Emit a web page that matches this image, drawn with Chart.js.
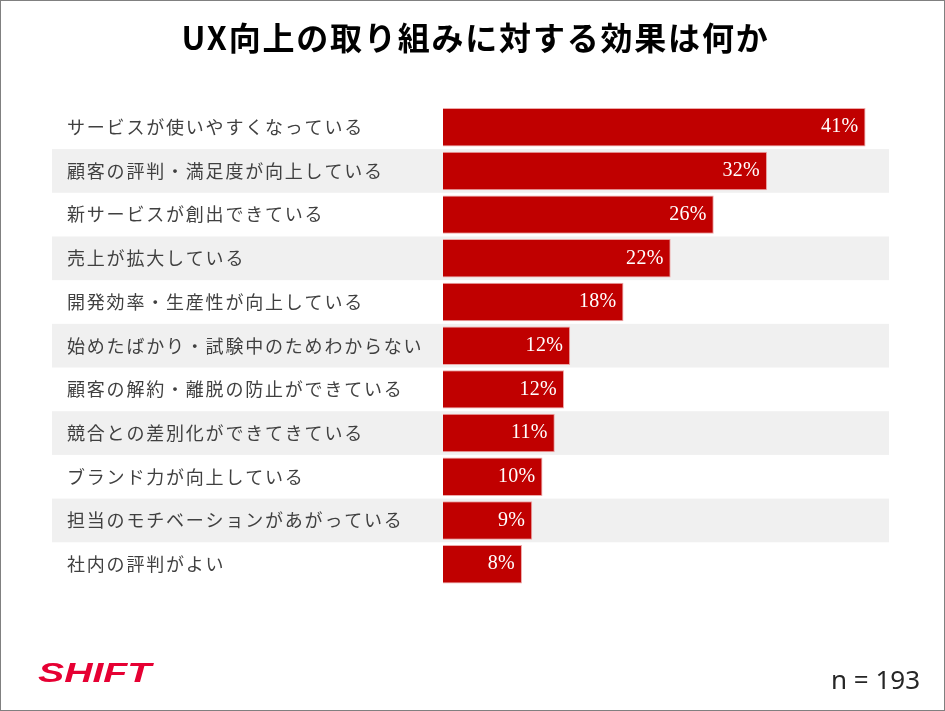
<!DOCTYPE html>
<html>
<head>
<meta charset="utf-8">
<script src="https://cdn.jsdelivr.net/npm/chart.js@4.4.1/dist/chart.umd.min.js"></script>
<style>
  html, body { margin: 0; padding: 0; background: #fff; }
  #wrap { position: relative; width: 945px; height: 711px; }
  #frame { position: absolute; left: 0; top: 0; width: 945px; height: 711px; box-sizing: border-box; border: 1.5px solid #808080; pointer-events: none; }
  canvas { position: absolute; left: 0; top: 0; }
</style>
</head>
<body>
<div id="wrap">
  <canvas id="c" width="945" height="711"></canvas>
  <div id="frame"></div>
</div>
<script>
const titleText = 'UX向上の取り組みに対する効果は何か';
const categories = [
  'サービスが使いやすくなっている',
  '顧客の評判・満足度が向上している',
  '新サービスが創出できている',
  '売上が拡大している',
  '開発効率・生産性が向上している',
  '始めたばかり・試験中のためわからない',
  '顧客の解約・離脱の防止ができている',
  '競合との差別化ができてきている',
  'ブランド力が向上している',
  '担当のモチベーションがあがっている',
  '社内の評判がよい'
];
const values = [41.2, 31.6, 26.4, 22.2, 17.6, 12.4, 11.8, 10.9, 9.7, 8.7, 7.7];
const sampleNote = 'n = 193';
const logoText = 'SHIFT';

const bandsPlugin = {
  id: 'bands',
  beforeDraw(chart) {
    const ctx = chart.ctx;
    const y = chart.scales.y;
    const step = y.getPixelForValue(1) - y.getPixelForValue(0);
    ctx.save();
    ctx.fillStyle = '#F0F0F0';
    for (let i = 1; i < categories.length; i += 2) {
      const yc = y.getPixelForValue(i);
      ctx.fillRect(52, yc - step / 2, 889 - 52, step);
    }
    ctx.restore();
    ctx.letterSpacing = '1.8px';
  },
  afterDatasetsDraw(chart) {
    const ctx = chart.ctx;
    const meta = chart.getDatasetMeta(0);
    ctx.save();
    ctx.letterSpacing = '0.3px';
    ctx.fillStyle = '#FFFFFF';
    ctx.font = '20px "Liberation Serif", "DejaVu Serif", serif';
    ctx.textAlign = 'right';
    ctx.textBaseline = 'middle';
    meta.data.forEach((bar, i) => {
      ctx.fillText(Math.round(values[i]) + '%', bar.x - 7, bar.y);
    });
    ctx.restore();
  },
  afterDraw(chart) {
    const ctx = chart.ctx;
    ctx.save();
    ctx.letterSpacing = '0px';
    // sample size
    ctx.fillStyle = '#262626';
    ctx.font = '26px "Noto Sans", "Noto Sans CJK JP", sans-serif';
    ctx.textAlign = 'right';
    ctx.textBaseline = 'alphabetic';
    ctx.fillText(sampleNote, 920, 689);
    // logo
    ctx.translate(38, 682);
    ctx.scale(1.4, 1);
    ctx.fillStyle = '#E60033';
    ctx.font = 'italic bold 28px "Liberation Sans", Arial, sans-serif';
    ctx.textAlign = 'left';
    ctx.fillText(logoText, 0, 0);
    ctx.restore();
    ctx.letterSpacing = '0px';
  }
};

new Chart(document.getElementById('c'), {
  type: 'bar',
  data: {
    labels: categories,
    datasets: [{
      data: values,
      backgroundColor: '#C00000',
      borderColor: '#EDA8A8',
      borderWidth: 1,
      barPercentage: 0.88,
      categoryPercentage: 1.0
    }]
  },
  options: {
    indexAxis: 'y',
    responsive: false,
    animation: false,
    devicePixelRatio: 1,
    layout: { padding: { left: 67, right: 61, top: 0, bottom: 125 } },
    plugins: {
      legend: { display: false },
      tooltip: { enabled: false },
      title: {
        display: true,
        text: titleText,
        color: '#000000',
        font: { family: '"Noto Sans CJK JP", "Noto Sans", sans-serif', size: 32, weight: 'bold', lineHeight: 1.2 },
        padding: { top: 19, bottom: 48 }
      }
    },
    scales: {
      x: { display: false, min: 0, max: 43 },
      y: {
        grid: { display: false },
        border: { display: false },
        afterFit(scale) { scale.width = 376; },
        ticks: {
          crossAlign: 'far',
          color: '#404040',
          font: { family: '"Noto Sans CJK JP", "Noto Sans", sans-serif', size: 18 },
          autoSkip: false
        }
      }
    }
  },
  plugins: [bandsPlugin]
});
</script>
</body>
</html>
